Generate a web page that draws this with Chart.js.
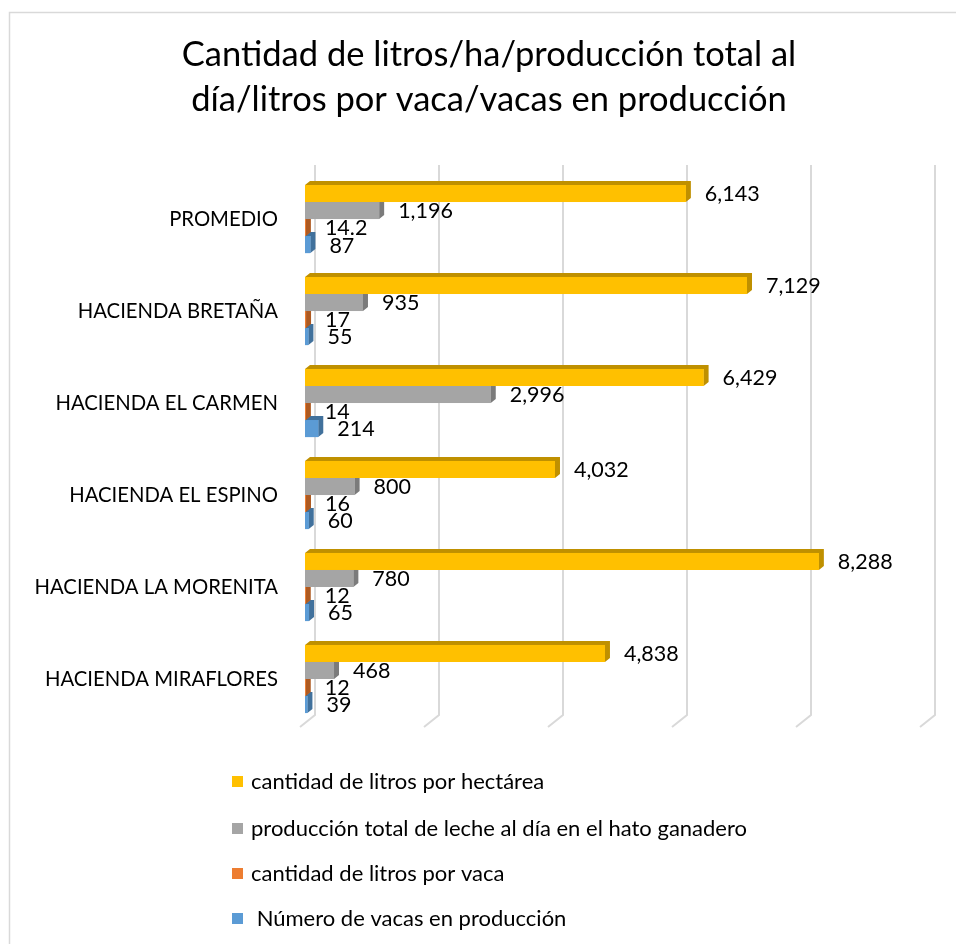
<!DOCTYPE html>
<html lang="es">
<head>
  <meta charset="UTF-8">
  <title>Cantidad de litros</title>
  <script src="https://cdn.jsdelivr.net/npm/chart.js"></script>
  <style>
    body { margin: 0; background: #fff; }
  </style>
</head>
<body>
  <canvas id="grafico" width="956" height="944"></canvas>

  <script>
    const categorias = ['PROMEDIO', 'HACIENDA BRETAÑA', 'HACIENDA EL CARMEN', 'HACIENDA EL ESPINO', 'HACIENDA LA MORENITA', 'HACIENDA MIRAFLORES'];
    const series = ['cantidad de litros por hectárea', 'producción total de leche al día en el hato ganadero', 'cantidad de litros por vaca', ' Número de vacas en producción'];
    const litrosHectarea = [6143, 7129, 6429, 4032, 8288, 4838];
    const produccionTotal = [1196, 935, 2996, 800, 780, 468];
    const litrosVaca = [14.2, 17, 14, 16, 12, 12];
    const vacas = [87, 55, 214, 60, 65, 39];
    const gridTicks = [0, 2000, 4000, 6000, 8000, 10000];

    const colores = ['#FFC000', '#A5A5A5', '#ED7D31', '#5B9BD5'];
    const sombras = ['#BF9000', '#7B7B7B', '#AE5A21', '#41719C'];
    const FONT = 'Lato, "Open Sans", sans-serif';

    Chart.defaults.color = '#000';
    Chart.defaults.font.family = FONT;

    // marco del gráfico
    const marco = {
      id: 'marco',
      beforeDraw(chart) {
        const c = chart.ctx;
        c.save();
        c.strokeStyle = '#D9D9D9';
        c.lineWidth = 1.5;
        c.strokeRect(9.5, 12.5, 1200, 1200);
        c.restore();
      }
    };

    // líneas de división con pared en perspectiva
    const rejilla = {
      id: 'rejilla',
      beforeDatasetsDraw(chart) {
        const c = chart.ctx, x = chart.scales.x, a = chart.chartArea;
        c.save();
        c.strokeStyle = '#D9D9D9';
        c.lineWidth = 2;
        gridTicks.forEach(v => {
          const xb = x.getPixelForValue(v) + 10;
          c.beginPath();
          c.moveTo(xb, a.top - 8);
          c.lineTo(xb, a.bottom - 10);
          c.lineTo(xb - 15, a.bottom + 2);
          c.stroke();
        });
        c.restore();
      }
    };

    // barras 3D + etiquetas de valor
    const barras3d = {
      id: 'barras3d',
      afterDatasetsDraw(chart) {
        const c = chart.ctx;
        const d = 5, dy = 4;
        c.save();
        for (let i = chart.data.datasets.length - 1; i >= 0; i--) {
          const meta = chart.getDatasetMeta(i);
          meta.data.forEach(bar => {
            const { x, y, base, height } = bar.getProps(['x', 'y', 'base', 'height'], true);
            const top = y - height / 2, bottom = y + height / 2;
            c.fillStyle = sombras[i];
            c.beginPath();
            c.moveTo(base, top);
            c.lineTo(base + d, top - dy);
            c.lineTo(x + d, top - dy);
            c.lineTo(x + d, bottom - dy);
            c.lineTo(x, bottom);
            c.lineTo(x, top);
            c.closePath();
            c.fill();
            c.fillStyle = colores[i];
            c.fillRect(base, top, x - base, height);
          });
        }
        c.fillStyle = '#000';
        c.font = '21.5px ' + FONT;
        c.textBaseline = 'middle';
        chart.data.datasets.forEach((ds, i) => {
          chart.getDatasetMeta(i).data.forEach((bar, j) => {
            const txt = ds.data[j].toLocaleString('en-US', { maximumFractionDigits: 1 });
            c.fillText(txt, bar.x + d + 14, bar.y + 1);
          });
        });
        c.restore();
      }
    };

    // leyenda en lista vertical
    const leyenda = {
      id: 'leyenda',
      afterDraw(chart) {
        const c = chart.ctx;
        const ys = [782, 829, 874, 919];
        c.save();
        c.font = '22px ' + FONT;
        c.textBaseline = 'middle';
        chart.data.datasets.forEach((ds, i) => {
          c.fillStyle = ds.backgroundColor;
          c.fillRect(232, ys[i] - 6, 11, 11);
          c.fillStyle = '#000';
          c.fillText(ds.label, 251, ys[i]);
        });
        c.restore();
      }
    };

    new Chart(document.getElementById('grafico'), {
      type: 'bar',
      data: {
        labels: categorias,
        datasets: [
          { label: series[0], data: litrosHectarea, backgroundColor: colores[0] },
          { label: series[1], data: produccionTotal, backgroundColor: colores[1] },
          { label: series[2], data: litrosVaca, backgroundColor: colores[2] },
          { label: series[3], data: vacas, backgroundColor: colores[3] }
        ]
      },
      options: {
        indexAxis: 'y',
        responsive: false,
        animation: false,
        categoryPercentage: 0.74,
        barPercentage: 1,
        layout: { padding: { left: 22, right: 0, bottom: 219, top: 0 } },
        plugins: {
          legend: { display: false },
          tooltip: { enabled: false },
          title: {
            display: true,
            text: ['Cantidad de litros/ha/producción total al', 'día/litros por vaca/vacas en producción'],
            font: { size: 34.5, weight: 'normal', lineHeight: 1.305 },
            color: '#000',
            padding: { top: 32.5, bottom: 50.5 }
          }
        },
        scales: {
          x: { display: false, min: 0, max: 10500 },
          y: {
            grid: { display: false, drawTicks: false },
            border: { display: false },
            ticks: { font: { size: 20.3 }, color: '#000', padding: 27 },
            afterFit(scale) { scale.width = 283; }
          }
        }
      },
      plugins: [marco, rejilla, barras3d, leyenda]
    });
  </script>
</body>
</html>
